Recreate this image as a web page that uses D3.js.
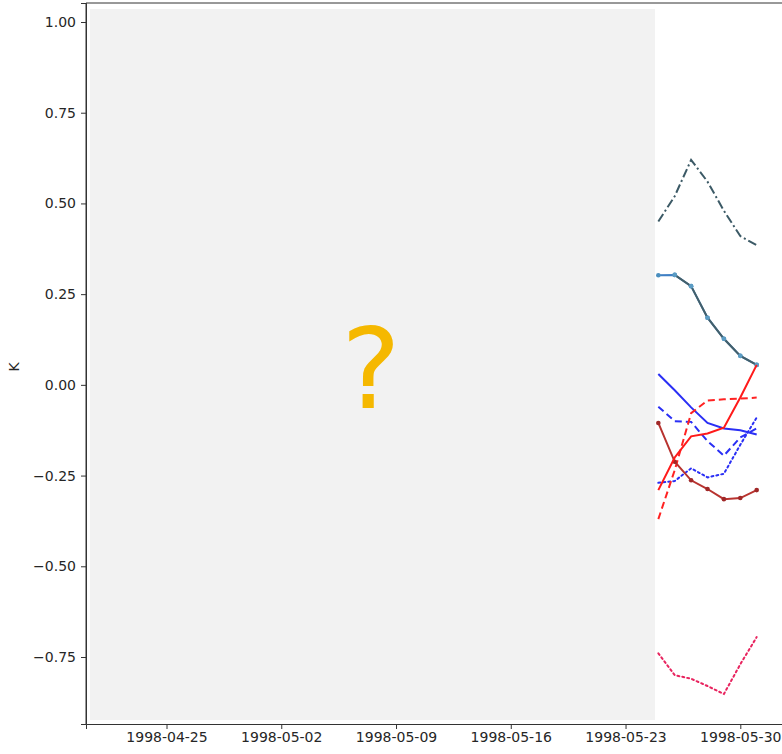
<!DOCTYPE html>
<html>
<head>
<meta charset="utf-8">
<script src="https://cdn.jsdelivr.net/npm/d3@7"></script>
<style>
    body { margin: 0; background: #fff; }
    svg { display: block; font-family: "DejaVu Sans", sans-serif; }
    .axis text { font-size: 14px; fill: #262626; font-family: "DejaVu Sans", sans-serif; }
    .axis line, .axis path { stroke: #333; }
</style>
</head>
<body>
<svg width="782" height="754"></svg>
<script>
// Only the last days of the series are readable in the reference
var dates = ['1998-05-25', '1998-05-26', '1998-05-27', '1998-05-28', '1998-05-29', '1998-05-30', '1998-05-31'];

var slateDashDot = [0.45, 0.52, 0.62, 0.56, 0.48, 0.41, 0.385];
var steelMarked  = [0.302, 0.303, 0.272, 0.185, 0.127, 0.080, 0.055];
var blueSolid    = [0.03, -0.015, -0.062, -0.105, -0.12, -0.125, -0.137];
var redSolid     = [-0.29, -0.2, -0.142, -0.134, -0.118, -0.035, 0.055];
var redDashed    = [-0.37, -0.235, -0.078, -0.043, -0.04, -0.038, -0.035];
var blueDashed   = [-0.06, -0.1, -0.102, -0.155, -0.195, -0.145, -0.12];
var blueDotted   = [-0.27, -0.265, -0.23, -0.255, -0.245, -0.165, -0.09];
var brownMarked  = [-0.105, -0.212, -0.263, -0.287, -0.315, -0.312, -0.29];
var crimsonDotted = [-0.74, -0.8, -0.81, -0.83, -0.852, -0.77, -0.695];

var xTickLabels = ['1998-04-25', '1998-05-02', '1998-05-09', '1998-05-16', '1998-05-23', '1998-05-30'];
var yTicks = [-0.75, -0.5, -0.25, 0, 0.25, 0.5, 0.75, 1.0];

var parse = d3.timeParse('%Y-%m-%d');

var series = [
    {values: slateDashDot, color: '#3c5a66', dash: '9,3,2,3'},
    {values: steelMarked, color: '#3f7fc4', dash: null, marker: '#4a8fbf'},
    {values: steelMarked.slice(1), offset: 1, color: '#44606a', dash: null, marker: '#5b9cc4'},
    {values: blueSolid, color: '#2a2ff5', dash: null},
    {values: blueDashed, color: '#2a2ff5', dash: '7,4'},
    {values: blueDotted, color: '#2a2ff5', dash: '2,3'},
    {values: redDashed, color: '#ff2222', dash: '7,4'},
    {values: brownMarked, color: '#b8332f', dash: null, marker: '#a02828'},
    {values: redSolid, color: '#ff1a1a', dash: null},
    {values: crimsonDotted, color: '#e8245f', dash: '2,3'}
];

var svg = d3.select('svg');

var plot = {l: 86, r: 790, t: 3, b: 724};

// x scale fitted to the tick positions, then widened to the frame
var xTicks = xTickLabels.map(parse);
var xBase = d3.scaleTime()
    .domain([xTicks[0], xTicks[5]])
    .range([166.5, 740.3]);
var x = xBase.copy()
    .domain([xBase.invert(plot.l), xBase.invert(plot.r)])
    .range([plot.l, plot.r]);

var yBase = d3.scaleLinear().domain([-0.75, 1]).range([657, 22]);
var y = yBase.copy()
    .domain([yBase.invert(plot.b), yBase.invert(plot.t)])
    .range([plot.b, plot.t]);

var line = d3.line()
    .x(function(d){ return x(d.date); })
    .y(function(d){ return y(d.value); });

series.forEach(function(s){
    var pts = s.values.map(function(v, i){
        return {date: parse(dates[i + (s.offset || 0)]), value: v};
    });
    svg.append('path')
        .datum(pts)
        .attr('d', line)
        .attr('fill', 'none')
        .attr('stroke', s.color)
        .attr('stroke-width', 2)
        .attr('stroke-dasharray', s.dash)
        .attr('stroke-linecap', s.dash === '2,3' ? 'round' : 'butt');
    if (s.marker) {
        svg.selectAll(null)
            .data(pts)
            .enter()
            .append('circle')
            .attr('cx', function(d){ return x(d.date); })
            .attr('cy', function(d){ return y(d.value); })
            .attr('r', 2.3)
            .attr('fill', s.marker);
    }
});

// masked region of the reference
svg.append('rect')
    .attr('x', 90).attr('y', 9)
    .attr('width', 565).attr('height', 711)
    .attr('fill', '#f2f2f2');
svg.append('text')
    .attr('x', 371).attr('y', 408)
    .attr('text-anchor', 'middle')
    .attr('font-size', 112)
    .attr('fill', '#f5b800')
    .text('?');

// frame
svg.append('line').attr('x1', plot.l).attr('x2', plot.r).attr('y1', plot.t).attr('y2', plot.t)
    .attr('stroke', '#333');
svg.append('line').attr('x1', plot.l).attr('x2', plot.l).attr('y1', plot.t).attr('y2', plot.b)
    .attr('stroke', '#333');

svg.append('g')
    .attr('class', 'axis')
    .attr('transform', 'translate(0,' + plot.b + ')')
    .call(d3.axisBottom(x).tickValues(xTicks).tickSize(5).tickPadding(3)
        .tickFormat(d3.timeFormat('%Y-%m-%d')));

svg.append('g')
    .attr('class', 'axis')
    .attr('transform', 'translate(' + plot.l + ',0)')
    .call(d3.axisLeft(y).tickValues(yTicks).tickSize(5).tickPadding(5)
        .tickFormat(function(d){ return d3.format('.2f')(d).replace('-', '\u2212'); }));

svg.append('text')
    .attr('transform', 'translate(19,367) rotate(-90)')
    .attr('text-anchor', 'middle')
    .attr('font-size', 14)
    .attr('fill', '#262626')
    .text('K');
</script>
</body>
</html>
